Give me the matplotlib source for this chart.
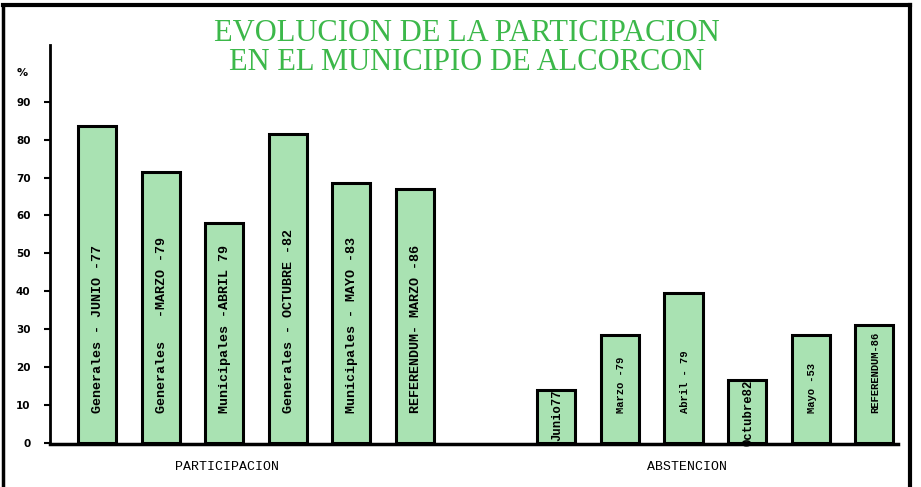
import numpy as np
import matplotlib.pyplot as plt
from matplotlib.lines import Line2D

# valores
part_labels = ['Generales - JUNIO -77', 'Generales   -MARZO -79', 'Municipales -ABRIL 79',
               'Generales - OCTUBRE -82', 'Municipales - MAYO -83', 'REFERENDUM- MARZO -86']
part_values = [83.5, 71.5, 58, 81.5, 68.5, 67]
abst_labels = ['Junio77', 'Marzo -79', 'Abril - 79', 'Octubre82', 'Mayo -53', 'REFERENDUM-86']
abst_values = [14, 28.5, 39.5, 16.5, 28.5, 31]
group_labels = ['PARTICIPACION', 'ABSTENCION']
yticks = [0, 10, 20, 30, 40, 50, 60, 70, 80, 90]

title = 'EVOLUCION DE LA PARTICIPACION\nEN EL MUNICIPIO DE ALCORCON'

fig = plt.figure(figsize=(9.21, 4.87), dpi=100)
ax = fig.add_axes([0.0543, 0.088, 0.921, 0.82])

x_part = np.arange(len(part_values))
x_abst = np.arange(len(abst_values)) + 7.23

bar_kw = dict(width=0.6, color='#a9e2b2', edgecolor='black', linewidth=2.2, zorder=2)
ax.bar(x_part, part_values, **bar_kw)
ax.bar(x_abst, abst_values, **bar_kw)

lab_font = dict(family='Liberation Mono', weight='bold', rotation=90, ha='center', zorder=3)
for x, v, lab in zip(x_part, part_values, part_labels):
    ax.text(x + 0.02, 8.0, lab, va='bottom', fontsize=9.6, **lab_font)
for x, v, lab in zip(x_abst, abst_values, abst_labels):
    if v > 25:
        ax.text(x + 0.02, 8.0, lab, va='bottom', fontsize=7.6, **lab_font)
    else:
        ax.text(x + 0.02, v + 0.2, lab, va='top', fontsize=8.8, **lab_font)

ax.set_xlim(-0.74, 12.61)
ax.set_ylim(-0.3, 105)
ax.set_yticks(yticks)
ax.set_yticklabels([str(t) for t in yticks], family='DejaVu Sans', weight='bold', fontsize=7.5)
ax.tick_params(axis='y', length=4, width=1.5, pad=10)

centers = [x_part.mean() - 0.45, x_abst.mean() - 0.45]
ax.set_xticks(centers)
ax.set_xticklabels(group_labels, family='Liberation Mono', fontsize=9.5)
ax.tick_params(axis='x', length=0, pad=12)

for s in ['top', 'right']:
    ax.spines[s].set_visible(False)
ax.spines['left'].set_linewidth(2)
ax.spines['bottom'].set_linewidth(2.5)

ax.text(-0.033, 0.93, '%', transform=ax.transAxes, fontsize=8, weight='bold',
        ha='center', va='center')

fig.text(0.507, 0.902, title, ha='center', va='center', color='#3cb84a',
         family='Liberation Serif', fontsize=22, linespacing=0.98)

# marco
fig.add_artist(Line2D([0.003, 0.003], [0.0, 0.99], transform=fig.transFigure, color='black', lw=2.5))
fig.add_artist(Line2D([0.003, 0.988], [0.99, 0.99], transform=fig.transFigure, color='black', lw=3))
fig.add_artist(Line2D([0.988, 0.988], [0.0, 0.99], transform=fig.transFigure, color='black', lw=3))

fig.savefig('out.png', dpi=100)
